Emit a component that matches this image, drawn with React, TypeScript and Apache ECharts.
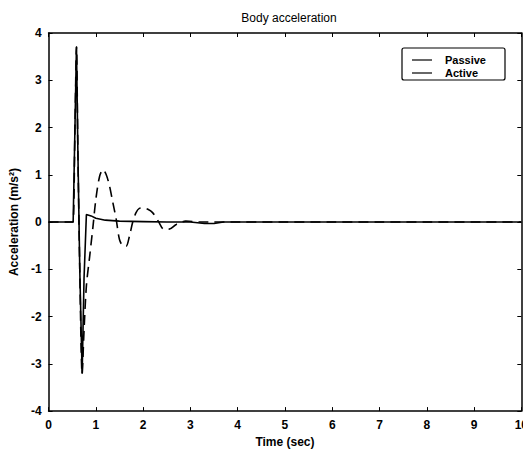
import React, { useEffect, useRef } from "react";
import * as echarts from "echarts";

const titleText = "Body acceleration";
const xName = "Time (sec)";
const yName = "Acceleration (m/s²)";
const seriesNames = ["Passive", "Active"];

// time (s), value (m/s^2)
const passiveT = [0, 0.5, 0.52, 0.56, 0.59, 0.62, 0.66, 0.71, 0.75, 0.8, 0.87, 0.94, 1.0, 1.08, 1.15, 1.22, 1.29, 1.36, 1.43, 1.5, 1.57, 1.64, 1.71, 1.78, 1.85, 1.92, 2.0, 2.1, 2.2, 2.32, 2.44, 2.55, 2.7, 2.9, 3.2, 4, 5, 6, 7, 8, 9, 10];
const passiveV = [0, 0, 0, 2.1, 3.71, 1.5, -1.0, -3.21, -2.3, -1.35, -0.72, -0.09, 0.48, 0.97, 1.11, 1.0, 0.76, 0.41, 0.06, -0.37, -0.5, -0.51, -0.3, 0.0, 0.2, 0.29, 0.3, 0.27, 0.2, 0.02, -0.15, -0.15, -0.05, 0.02, 0.0, 0.0, 0.0, 0.0, 0.0, 0.0, 0.0, 0.0];

const activeT = [0, 0.5, 0.52, 0.56, 0.59, 0.62, 0.66, 0.71, 0.75, 0.8, 0.9, 1.0, 1.2, 1.5, 2.0, 2.5, 3.0, 3.3, 3.5, 3.7, 4, 5, 6, 7, 8, 9, 10];
const activeV = [0, 0, 0, 2.1, 3.71, 1.5, -1.0, -3.21, -1.2, 0.16, 0.13, 0.08, 0.04, 0.02, 0.01, 0.0, 0.0, -0.03, -0.03, 0.0, 0.0, 0.0, 0.0, 0.0, 0.0, 0.0, 0.0];

const FONT = "Liberation Sans, Arial, sans-serif";

export default function App() {
  const ref = useRef<HTMLDivElement>(null);
  useEffect(() => {
    if (!ref.current) return;
    const chart = echarts.init(ref.current, null, { renderer: "svg" });
    const passive = passiveT.map((t, i) => [t, passiveV[i]]);
    const active = activeT.map((t, i) => [t, activeV[i]]);
    const axisCommon = {
      axisLine: { show: true, onZero: false, lineStyle: { color: "#000", width: 1.5 } },
      axisTick: { show: true, inside: true, length: 4, lineStyle: { color: "#000", width: 1 } },
      splitLine: { show: false },
    };
    const legendLeft = 402;
    const legendTop = 48;
    const rowGap = 13;
    const legendItems: any[] = [
      {
        type: "rect",
        shape: { x: legendLeft, y: legendTop, width: 103, height: 32, r: 2 },
        style: { fill: "#fff", stroke: "#000", lineWidth: 1.2 },
        z: 10,
      },
    ];
    seriesNames.forEach((n, i) => {
      const y = legendTop + 12 + i * rowGap;
      legendItems.push({
        type: "line",
        shape: { x1: legendLeft + 10, y1: y, x2: legendLeft + 30, y2: y },
        style: { stroke: "#000", lineWidth: 1.2 },
        z: 11,
      });
      legendItems.push({
        type: "text",
        x: legendLeft + 43,
        y,
        style: {
          text: n,
          fill: "#000",
          font: `bold 11px ${FONT}`,
          textVerticalAlign: "middle",
          verticalAlign: "middle",
        },
        z: 11,
      });
    });
    chart.setOption({
      animation: false,
      backgroundColor: "#fff",
      title: {
        text: titleText,
        left: 284,
        textAlign: "center",
        top: 7,
        textStyle: { fontFamily: FONT, fontSize: 12, fontWeight: "normal", color: "#000" },
      },
      graphic: legendItems,
      grid: { left: 45, top: 33, right: 8, bottom: 41 },
      xAxis: [
        {
          type: "value",
          min: 0,
          max: 10,
          interval: 1,
          name: xName,
          nameLocation: "middle",
          nameGap: 24,
          nameTextStyle: { fontFamily: FONT, fontSize: 12, fontWeight: "bold", color: "#000" },
          axisLabel: { fontFamily: FONT, fontSize: 12, fontWeight: "bold", color: "#000", margin: 8 },
          ...axisCommon,
        },
        {
          type: "value",
          position: "top",
          min: 0,
          max: 10,
          interval: 1,
          axisLabel: { show: false },
          ...axisCommon,
        },
      ],
      yAxis: [
        {
          type: "value",
          min: -4,
          max: 4,
          interval: 1,
          name: yName,
          nameLocation: "middle",
          nameGap: 24,
          nameTextStyle: { fontFamily: FONT, fontSize: 12, fontWeight: "bold", color: "#000" },
          axisLabel: { fontFamily: FONT, fontSize: 12, fontWeight: "bold", color: "#000", margin: 7 },
          ...axisCommon,
        },
        {
          type: "value",
          position: "right",
          min: -4,
          max: 4,
          interval: 1,
          axisLabel: { show: false },
          ...axisCommon,
        },
      ],
      series: [
        {
          name: seriesNames[0],
          type: "line",
          data: passive,
          symbol: "none",
          smooth: 0.3,
          lineStyle: { color: "#000", width: 1.6, type: [10, 6] },
          itemStyle: { color: "#000" },
          z: 2,
        },
        {
          name: seriesNames[1],
          type: "line",
          data: active,
          symbol: "none",
          lineStyle: { color: "#000", width: 1.6, type: "solid" },
          itemStyle: { color: "#000" },
          z: 3,
        },
      ],
    });
    return () => chart.dispose();
  }, []);
  return <div ref={ref} style={{ width: 531, height: 453, marginLeft: -8, marginTop: -8 }} />;
}
